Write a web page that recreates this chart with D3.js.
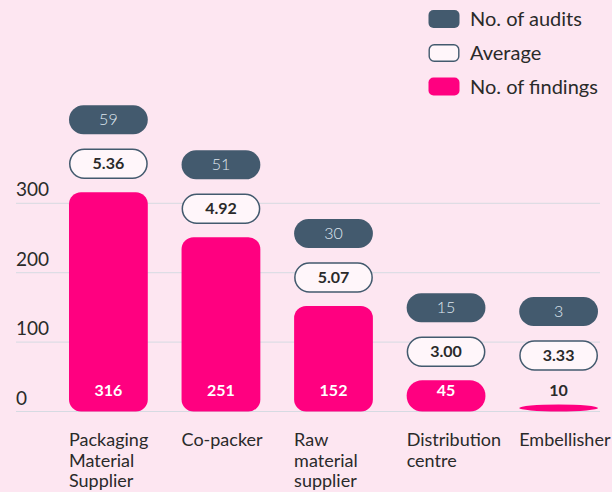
<!DOCTYPE html>
<html><head><meta charset="utf-8">
<script src="https://cdn.jsdelivr.net/npm/d3@7"></script>
<style>
html,body{margin:0;padding:0;background:#fde6f1;}
svg{display:block;font-family:Lato, "Noto Sans", sans-serif;}
</style></head>
<body><svg id="c" width="612" height="492"></svg>
<script>
const categories = [["Packaging","Material","Supplier"],["Co-packer"],["Raw","material","supplier"],["Distribution","centre"],["Embellisher"]];
const findings = [316, 251, 152, 45, 10];
const audits = [59, 51, 30, 15, 3];
const averages = ["5.36", "4.92", "5.07", "3.00", "3.33"];
const yTicks = [0, 100, 200, 300];
const legendItems = ["No. of audits", "Average", "No. of findings"];

const W = 612, H = 492;
const C = {bg:"#fde6f1", pink:"#ff0080", slate:"#435a6e", grid:"#d6dae2", text:"#2a2a2a"};
const svg = d3.select("#c");
svg.append("rect").attr("width",W).attr("height",H).attr("fill",C.bg);

const x = d3.scaleBand().domain(d3.range(categories.length)).range([69, 598]).paddingInner(0.3).paddingOuter(0);
const y = d3.scaleLinear().domain([0, 300]).range([411.5, 203.3]);
const bw = x.bandwidth();

// grid + y labels
const g = svg.append("g");
yTicks.forEach(t => {
  g.append("line").attr("x1",16).attr("x2",600).attr("y1",y(t)).attr("y2",y(t))
    .attr("stroke",C.grid).attr("stroke-width",1);
  g.append("text").attr("x",16).attr("y",y(t)-7).attr("font-size",19).attr("fill",C.text).text(t);
});

const pillH = 29;
findings.forEach((v,i) => {
  const x0 = x(i);
  const top = y(v), bot = y(0);
  const h = bot - top;
  if (h >= 24) {
    svg.append("rect").attr("x",x0).attr("y",top).attr("width",bw).attr("height",h)
      .attr("rx", h < 40 ? h/2 : 12).attr("fill",C.pink);
  } else {
    svg.append("rect").attr("x",x0).attr("y",top).attr("width",bw).attr("height",h)
      .attr("rx", bw/2).attr("ry", h/2).attr("fill",C.pink);
  }
  let labelY, stackTop;
  if (h >= 24) {
    labelY = bot - 21;
    stackTop = top;
    svg.append("text").attr("x",x0+bw/2).attr("y",labelY).attr("dy","0.35em")
      .attr("text-anchor","middle").attr("font-size",16).attr("font-weight",700)
      .attr("fill","#fff").text(v);
  } else {
    labelY = top - 14.5;
    stackTop = labelY - 6;
    svg.append("text").attr("x",x0+bw/2).attr("y",labelY).attr("dy","0.35em")
      .attr("text-anchor","middle").attr("font-size",16).attr("font-weight",700)
      .attr("fill",C.text).text(v);
  }
  const avgC = stackTop - 28.5;
  const audC = avgC - 44;
  svg.append("rect").attr("x",x0+0.75).attr("y",avgC-pillH/2).attr("width",bw-1.5).attr("height",pillH)
    .attr("rx",pillH/2).attr("fill","#fff6fa").attr("stroke",C.slate).attr("stroke-width",1.5);
  svg.append("text").attr("x",x0+bw/2).attr("y",avgC).attr("dy","0.35em")
    .attr("text-anchor","middle").attr("font-size",16).attr("font-weight",700)
    .attr("fill",C.text).text(averages[i]);
  svg.append("rect").attr("x",x0).attr("y",audC-pillH/2).attr("width",bw).attr("height",pillH)
    .attr("rx",pillH/2).attr("fill",C.slate);
  svg.append("text").attr("x",x0+bw/2).attr("y",audC).attr("dy","0.35em")
    .attr("text-anchor","middle").attr("font-size",16).attr("font-weight",300)
    .attr("fill","#dfe6ee").text(audits[i]);
  const t = svg.append("text").attr("x",x0).attr("y",446).attr("font-size",18).attr("fill",C.text);
  categories[i].forEach((ln,j) => t.append("tspan").attr("x",x0).attr("y",446+j*20.5).text(ln));
});

// legend
const legY = [19, 53, 86.5];
const legStyles = [
  {fill:C.slate, stroke:"none"},
  {fill:"#fff6fa", stroke:C.slate},
  {fill:C.pink, stroke:"none"}
];
legendItems.forEach((name,i) => {
  const s = legStyles[i];
  const stroked = s.stroke !== "none";
  svg.append("rect").attr("x", stroked?429.2:428.5).attr("y",legY[i]-9 + (stroked?0.7:0))
    .attr("width", stroked?29.6:31).attr("height", stroked?16.6:18).attr("rx",5)
    .attr("fill",s.fill).attr("stroke",s.stroke).attr("stroke-width",1.4);
  svg.append("text").attr("x",470).attr("y",legY[i]).attr("dy","0.35em")
    .attr("font-size",20).attr("fill",C.text).text(name);
});
</script></body></html>
